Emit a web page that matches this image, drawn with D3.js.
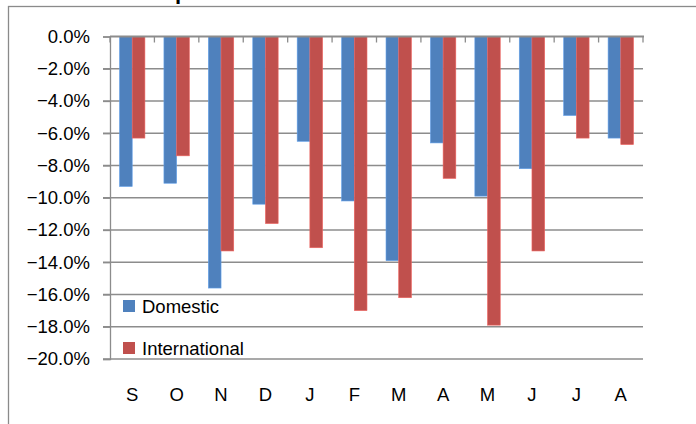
<!DOCTYPE html>
<html><head><meta charset="utf-8">
<script src="https://cdn.jsdelivr.net/npm/d3@7"></script>
<style>body{margin:0;background:#fff}svg{display:block}text{font-family:"Liberation Sans",Arial,sans-serif}</style>
</head><body>
<script>
const months = ["S","O","N","D","J","F","M","A","M","J","J","A"];
const domestic = [-9.3,-9.1,-15.6,-10.4,-6.5,-10.2,-13.9,-6.6,-9.9,-8.2,-4.9,-6.3];
const international = [-6.3,-7.4,-13.3,-11.6,-13.1,-17.0,-16.2,-8.8,-17.9,-13.3,-6.3,-6.7];
const yTicks = [0,-2,-4,-6,-8,-10,-12,-14,-16,-18,-20];
const seriesNames = ["Domestic","International"];
const colors = ["#4F81BD","#C0504D"];
const titleText = "Air Transport";

const W=696,H=424;
const svg=d3.select("body").append("svg").attr("width",W).attr("height",H);
// chart frame
svg.append("rect").attr("x",8.5).attr("y",6.5).attr("width",W+10).attr("height",H+10)
  .attr("fill","none").attr("stroke","#8a8a8a").attr("stroke-width",1.3);
// title (mostly above the visible area, as in the reference)
const title=svg.append("text").attr("x",0).attr("y",-1).attr("font-weight","bold").attr("font-size",22)
  .attr("fill","#000").text(titleText);
const pIdx=titleText.indexOf("p");
const pre=title.node().getSubStringLength(0,pIdx);
title.attr("x",175-pre);

const L=110,R=643,T=36.5,B=359;
const x=d3.scaleBand().domain(d3.range(months.length)).range([L,R]).paddingInner(0).paddingOuter(0);
const y=d3.scaleLinear().domain([0,-20]).range([T,B]);
const bw=x.bandwidth()/3.5;

// gridlines
svg.append("g").selectAll("line").data(yTicks.filter(d=>d!==0)).join("line")
  .attr("x1",L-7).attr("x2",R).attr("y1",d=>y(d)).attr("y2",d=>y(d))
  .attr("stroke","#8c8c8c").attr("stroke-width",1.3);

// y axis
const yAxis=d3.axisLeft(y).tickValues(yTicks).tickSize(7).tickPadding(13)
  .tickFormat(d=>d3.format(".1f")(d)+"%");
const gy=svg.append("g").attr("transform",`translate(${L},0)`).call(yAxis);
gy.select(".domain").attr("stroke","#8c8c8c").attr("stroke-width",1.3);
gy.selectAll(".tick line").attr("stroke","#8c8c8c").attr("stroke-width",1.3);
gy.selectAll(".tick text").attr("font-size",18.5).attr("fill","#000").attr("font-family","Liberation Sans, Arial, sans-serif");

// bars
const series=[domestic,international];
series.forEach((vals,si)=>{
  svg.append("g").selectAll("rect").data(vals).join("rect")
    .attr("x",(d,i)=>x(i)+0.75*bw+si*bw)
    .attr("y",y(0))
    .attr("width",bw)
    .attr("height",d=>y(d)-y(0))
    .attr("fill",colors[si])
    .attr("stroke",d3.color(colors[si]).brighter(0.6))
    .attr("stroke-width",0.6);
});

// top category axis (at zero)
svg.append("line").attr("x1",L).attr("x2",R+1).attr("y1",T).attr("y2",T)
  .attr("stroke","#8c8c8c").attr("stroke-width",2);
svg.append("g").selectAll("line").data(d3.range(months.length+1)).join("line")
  .attr("x1",i=>L+i*x.bandwidth()).attr("x2",i=>L+i*x.bandwidth())
  .attr("y1",T).attr("y2",T+6).attr("stroke","#8c8c8c").attr("stroke-width",1.3);

// category labels at bottom
svg.append("g").selectAll("text").data(months).join("text")
  .attr("x",(d,i)=>x(i)+x.bandwidth()/2).attr("y",401)
  .attr("text-anchor","middle").attr("font-size",18.5).attr("fill","#000").text(d=>d);

// legend
const lg=svg.append("g");
seriesNames.forEach((n,i)=>{
  const yy=300+i*42;
  lg.append("rect").attr("x",123).attr("y",yy).attr("width",12).attr("height",12).attr("fill",colors[i]);
  lg.append("text").attr("x",142).attr("y",yy+13).attr("font-size",18.5).attr("fill","#000").text(n);
});
</script>
</body></html>
